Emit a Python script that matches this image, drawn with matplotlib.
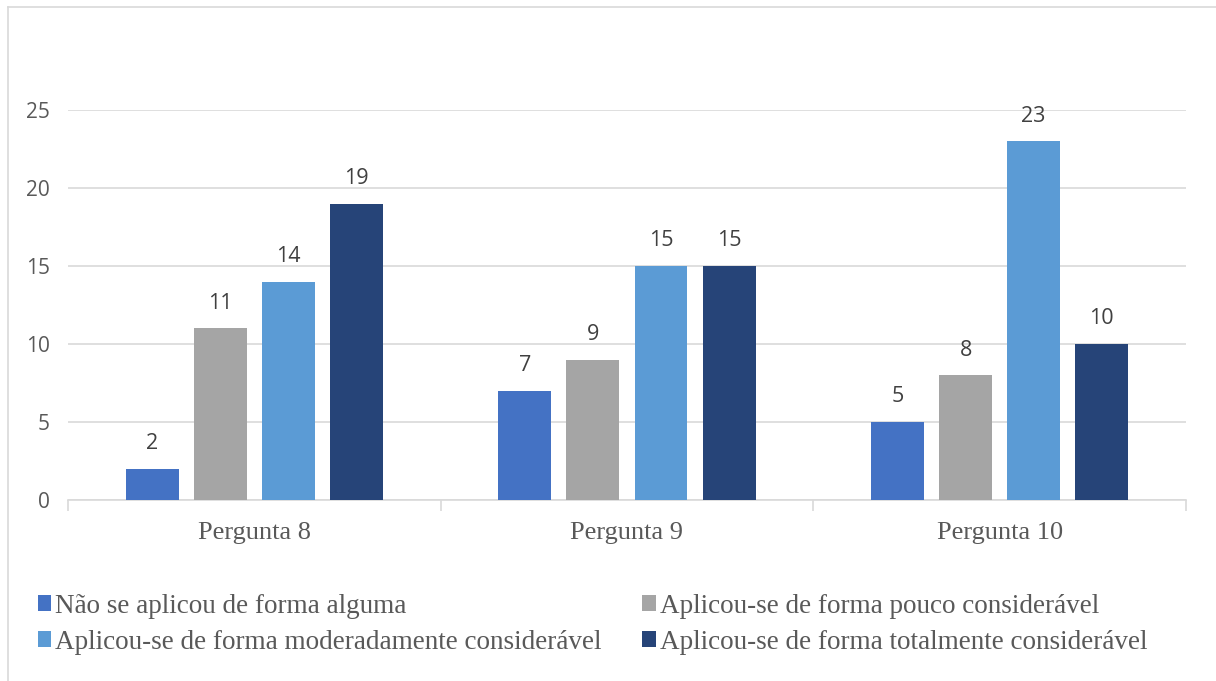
import matplotlib.pyplot as plt
import numpy as np
from matplotlib.lines import Line2D

groups = ['Pergunta 8', 'Pergunta 9', 'Pergunta 10']
series = ['Não se aplicou de forma alguma',
          'Aplicou-se de forma pouco considerável',
          'Aplicou-se de forma moderadamente considerável',
          'Aplicou-se de forma totalmente considerável']
nao_aplicou = [2, 7, 5]
pouco = [11, 9, 8]
moderado = [14, 15, 23]
totalmente = [19, 15, 10]
colors = ['#4472C4', '#A5A5A5', '#5B9BD5', '#264478']

values = [nao_aplicou, pouco, moderado, totalmente]
offsets = [-0.274, -0.0913, 0.0913, 0.274]
bar_w = 0.142

fig = plt.figure(figsize=(12.16, 6.81), dpi=100)
ax = fig.add_axes([0.0559, 0.2658, 0.9194, 0.5727])

x = np.arange(len(groups))
handles = []
for vals, off, col, name in zip(values, offsets, colors, series):
    bars = ax.bar(x + off, vals, bar_w, color=col, label=name, zorder=3)
    handles.append(bars)
    for b, v in zip(bars, vals):
        ax.annotate(str(v), (b.get_x() + b.get_width() / 2, v),
                    xytext=(0, 18), textcoords='offset points',
                    ha='center', va='center', fontsize=15.5,
                    color='#404040', family='Open Sans')

ax.set_xlim(-0.5, 2.5)
ax.set_ylim(0, 25)
ax.set_yticks(range(0, 26, 5))
ax.yaxis.grid(True, color='#d9d9d9', linewidth=1.2, zorder=0)
ax.tick_params(axis='y', length=0, pad=13, labelsize=15, labelcolor='#595959')
for lbl in ax.get_yticklabels():
    lbl.set_family('Open Sans')

ax.set_xticks(x)
ax.set_xticklabels(groups, family='Liberation Serif', fontsize=19, color='#595959')
ax.tick_params(axis='x', which='major', length=0, pad=16)
ax.set_xticks([-0.5, 0.5, 1.5, 2.5], minor=True)
ax.tick_params(axis='x', which='minor', length=8, color='#d9d9d9', width=1.2)

for s in ['left', 'right', 'top']:
    ax.spines[s].set_visible(False)
ax.spines['bottom'].set_color('#d9d9d9')
ax.spines['bottom'].set_linewidth(1.2)

# legend fills row by row in the reference
order = [0, 2, 1, 3]
leg = ax.legend([handles[i] for i in order], [series[i] for i in order],
                loc='upper left', bbox_to_anchor=(0.031, 0.128),
                bbox_transform=fig.transFigure, ncol=2, frameon=False,
                fontsize=19.5,
                handlelength=0.5, handleheight=0.5, handletextpad=0.15,
                columnspacing=1.5, labelspacing=0.4, borderpad=0,
                borderaxespad=0)
for t in leg.get_texts():
    t.set_color('#595959')
    t.set_family('Liberation Serif')

# outer frame (left and top edges visible)
fig.add_artist(Line2D([8 / 1216, 8 / 1216], [0, 1 - 7 / 681],
                      transform=fig.transFigure, color='#d9d9d9', linewidth=1.2))
fig.add_artist(Line2D([8 / 1216, 1], [1 - 7 / 681, 1 - 7 / 681],
                      transform=fig.transFigure, color='#d9d9d9', linewidth=1.2))

plt.savefig('out.png', dpi=100)
